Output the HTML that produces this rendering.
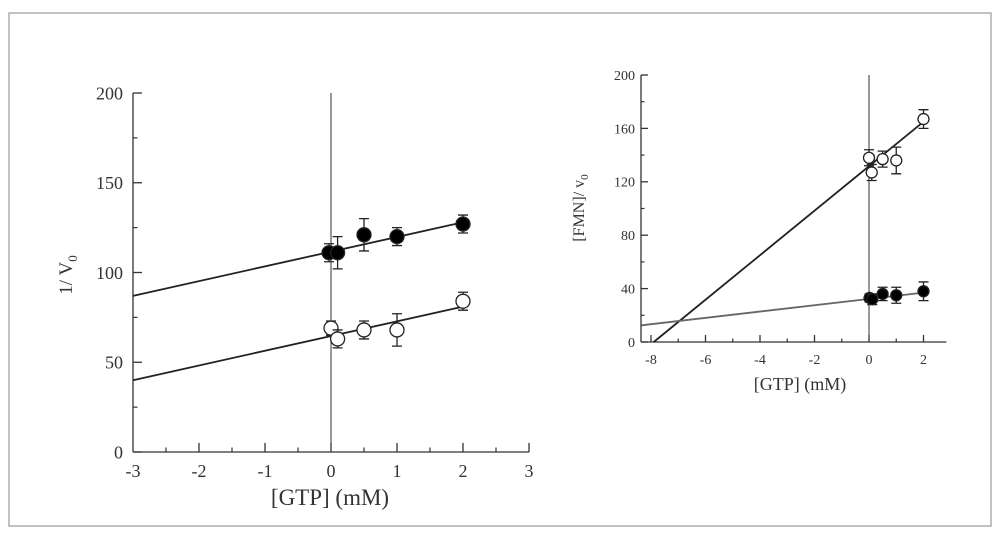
<!DOCTYPE html>
<html><head><meta charset="utf-8"><style>
html,body{margin:0;padding:0;background:#fff;}
svg{display:block;font-family:"Liberation Serif",serif;}
</style></head><body>
<svg id="s" width="1000" height="541" viewBox="0 0 1000 541">
<rect x="9" y="13" width="982" height="513" fill="#fff" stroke="#999" stroke-width="1.2"/>
</svg>
<script>
// Left chart data
const leftXTicks = [-3,-2,-1,0,1,2,3];
const leftYTicks = [0,50,100,150,200];
const leftFilledX = [-0.03,0.1,0.5,1,2];
const leftFilledY = [111,111,121,120,127];
const leftFilledErr = [5,9,9,5,5];
const leftOpenX = [0,0.1,0.5,1,2];
const leftOpenY = [69,63,68,68,84];
const leftOpenErr = [4,5,5,9,5];
const leftFilledLine = [[-3,87],[2,128]];
const leftOpenLine = [[-3,40],[2,81]];
// Right chart data
const rightXTicks = [-8,-6,-4,-2,0,2];
const rightYTicks = [0,40,80,120,160,200];
const rightOpenX = [0,0.1,0.5,1,2];
const rightOpenY = [138,127,137,136,167];
const rightOpenErr = [6,6,6,10,7];
const rightFilledX = [0.02,0.12,0.5,1,2];
const rightFilledY = [33,32,36,35,38];
const rightFilledErr = [3,4,5,6,7];
const rightOpenLine = [[-7.9,0],[2,165]];
const rightFilledLine = [[-8.35,12.5],[2,37]];

const svg = document.getElementById('s');
const NS='http://www.w3.org/2000/svg';
function mk(tag, attrs){const e=document.createElementNS(NS,tag);for(const k in attrs)e.setAttribute(k,attrs[k]);svg.appendChild(e);return e;}

function chart(cfg){
  const sx=v=>cfg.x0+(v-cfg.xmin)*cfg.xs, sy=v=>cfg.y0-v*cfg.ys;
  const p=cfg.prefix;
  let e;
  e=mk('line',{x1:cfg.axX,y1:cfg.y0,x2:cfg.axX,y2:sy(cfg.ymax),stroke:'#333','stroke-width':1.3});
  
  
  e=mk('line',{x1:cfg.axX,y1:cfg.y0,x2:sx(cfg.xend),y2:cfg.y0,stroke:'#333','stroke-width':1.3});
  
  
  e=mk('line',{x1:sx(0),y1:cfg.y0,x2:sx(0),y2:sy(cfg.ymax),stroke:'#333','stroke-width':1});
  
  
  // x ticks (major + minor)
  for(let i=0;i<cfg.xTicks.length;i++){
    const v=cfg.xTicks[i];
    if(sx(v)>cfg.axX+2){
      e=mk('line',{x1:sx(v),y1:cfg.y0,x2:sx(v),y2:cfg.y0-cfg.tl,stroke:'#333','stroke-width':1.3});
      
      
    }
    if(i<cfg.xTicks.length-1){
      const m=(v+cfg.xTicks[i+1])/2;
      e=mk('line',{x1:sx(m),y1:cfg.y0,x2:sx(m),y2:cfg.y0-cfg.tl/2,stroke:'#333','stroke-width':1.2});
      
      
    }
    e=mk('text',{x:sx(v),y:cfg.y0+cfg.xlo,'text-anchor':'middle','font-size':cfg.fs,fill:'#333'});
    e.textContent=v;
    
    
  }
  for(let i=0;i<cfg.yTicks.length;i++){
    const v=cfg.yTicks[i];
    e=mk('line',{x1:cfg.axX,y1:sy(v),x2:cfg.axX+cfg.tl,y2:sy(v),stroke:'#333','stroke-width':1.3});
    
    
    if(i<cfg.yTicks.length-1){
      const m=(v+cfg.yTicks[i+1])/2;
      e=mk('line',{x1:cfg.axX,y1:sy(m),x2:cfg.axX+cfg.tl/2,y2:sy(m),stroke:'#333','stroke-width':1.2});
      
      
    }
    e=mk('text',{x:cfg.axX-cfg.ylo,y:sy(v)+cfg.fs*0.35,'text-anchor':'end','font-size':cfg.fs,fill:'#333'});
    e.textContent=v;
    
    
  }
  cfg.lines.forEach((L,i)=>{
    e=mk('line',{x1:sx(L.pts[0][0]),y1:sy(L.pts[0][1]),x2:sx(L.pts[1][0]),y2:sy(L.pts[1][1]),stroke:L.col,'stroke-width':1.8});
    
    
  });
  cfg.series.forEach(S=>{
    for(let i=0;i<S.x.length;i++){
      const cx=sx(S.x[i]),cy=sy(S.y[i]),t=sy(S.y[i]+S.e[i]),b=sy(S.y[i]-S.e[i]);
      e=mk('path',{d:`M${cx},${t}V${b}M${cx-5},${t}H${cx+5}M${cx-5},${b}H${cx+5}`,stroke:'#222','stroke-width':1.3,fill:'none'});
      
      
      e=mk('circle',{cx:cx,cy:cy,r:cfg.r,fill:S.fill,stroke:'#222','stroke-width':1.3});
      
      
    }
  });
}
chart({prefix:'left',x0:133,xmin:-3,xs:66,y0:452,ys:1.795,ymax:200,axX:133,xend:3,tl:9,fs:18,xlo:25,ylo:10,r:7,
  xTicks:leftXTicks,yTicks:leftYTicks,
  lines:[{name:'filled',pts:leftFilledLine,col:'#222'},{name:'open',pts:leftOpenLine,col:'#222'}],
  series:[{name:'filled',x:leftFilledX,y:leftFilledY,e:leftFilledErr,fill:'#000'},{name:'open',x:leftOpenX,y:leftOpenY,e:leftOpenErr,fill:'#fff'}]});
chart({prefix:'right',x0:651,xmin:-8,xs:27.25,y0:342,ys:1.335,ymax:200,axX:641,xend:2.84,tl:7,fs:14,xlo:22,ylo:6,r:5.5,
  xTicks:rightXTicks,yTicks:rightYTicks,
  lines:[{name:'open',pts:rightOpenLine,col:'#222'},{name:'filled',pts:rightFilledLine,col:'#666'}],
  series:[{name:'open',x:rightOpenX,y:rightOpenY,e:rightOpenErr,fill:'#fff'},{name:'filled',x:rightFilledX,y:rightFilledY,e:rightFilledErr,fill:'#000'}]});
</script>
<svg style="position:absolute;left:0;top:0" width="1000" height="541">
<g font-family="Liberation Serif, serif" fill="#333">
<text x="330" y="505" text-anchor="middle" font-size="23">[GTP] (mM)</text>
<text transform="translate(72,275) rotate(-90)" text-anchor="middle" font-size="19">1/ V<tspan font-size="13" dy="5">0</tspan></text>
<text x="800" y="390" text-anchor="middle" font-size="18">[GTP] (mM)</text>
<text transform="translate(584,208) rotate(-90)" text-anchor="middle" font-size="16">[FMN]/ v<tspan font-size="11" dy="4">0</tspan></text>
</g>
</svg>
</body></html>
